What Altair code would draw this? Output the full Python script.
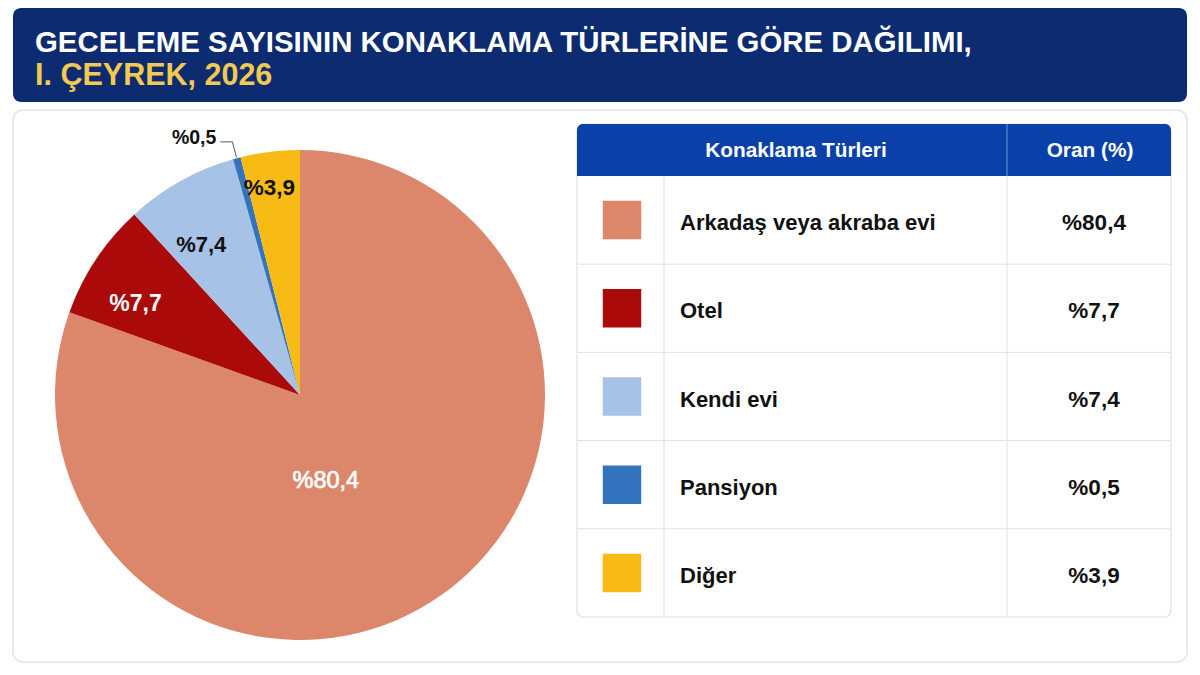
import math
import altair as alt
import pandas as pd

# ---------------- data ----------------
categories = ["Arkadaş veya akraba evi", "Otel", "Kendi evi", "Pansiyon", "Diğer"]
values = [80.4, 7.7, 7.4, 0.5, 3.9]
labels = ["%80,4", "%7,7", "%7,4", "%0,5", "%3,9"]
colors = ["#dc876c", "#ab0a0a", "#a6c2e6", "#3473bd", "#f8bb15"]
title_line1 = "GECELEME SAYISININ KONAKLAMA TÜRLERİNE GÖRE DAĞILIMI,"
title_line2 = "I. ÇEYREK, 2026"
headers = ["Konaklama Türleri", "Oran (%)"]

FONT = "Liberation Sans, Arial, Helvetica, sans-serif"
CX, CY, R = 300, 395, 245

df = pd.DataFrame({"category": categories, "value": values,
                   "label": labels, "idx": list(range(len(categories)))})
one = pd.DataFrame({"k": [1]})

color_scale = alt.Scale(domain=categories, range=colors)

# ---------------- background boxes ----------------
banner = alt.Chart(one).mark_rect(cornerRadius=8, color="#0c2b70").encode(
    x=alt.value(13), x2=alt.value(1187), y=alt.value(8), y2=alt.value(102))
panel = alt.Chart(one).mark_rect(cornerRadius=10, fill="white", stroke="#e0e3ea",
                                 strokeWidth=1.5).encode(
    x=alt.value(13), x2=alt.value(1187), y=alt.value(110), y2=alt.value(662))

t1 = alt.Chart(pd.DataFrame({"t": [title_line1]})).mark_text(
    align="left", baseline="middle", font=FONT, fontSize=29.4, fontWeight="bold",
    color="white").encode(x=alt.value(35), y=alt.value(43), text="t:N")
t2 = alt.Chart(pd.DataFrame({"t": [title_line2]})).mark_text(
    align="left", baseline="middle", font=FONT, fontSize=30.5, fontWeight="bold",
    color="#f3c951").encode(x=alt.value(35), y=alt.value(76), text="t:N")

# ---------------- pie ----------------
pie_base = alt.Chart(df).encode(
    theta=alt.Theta("value:Q", stack=True),
    order=alt.Order("idx:Q"),
    detail=alt.Detail("category:N"),
    x=alt.value(CX), y=alt.value(CY))

arcs = pie_base.mark_arc(outerRadius=R).encode(
    color=alt.Color("category:N", scale=color_scale, legend=None))


def pie_label(i, radius, color, weight, size, dx=0, dy=0, stroke_w=0):
    kw = {}
    if stroke_w:
        kw = {"stroke": color, "strokeWidth": stroke_w}
    return pie_base.transform_calculate(
        t=f"datum.idx == {i} ? datum.label : ''"
    ).mark_text(radius=radius, font=FONT, fontSize=size, fontWeight=weight,
                color=color, align="center", baseline="middle", dx=dx, dy=dy, **kw
    ).encode(text="t:N")


lab0 = pie_label(0, 90, "white", "normal", 23.5, dx=-26, dy=12, stroke_w=0.7)
lab1 = pie_label(1, 189, "white", "bold", 23, dx=-7, dy=14)
lab2 = pie_label(2, 180, "#111111", "bold", 22, dx=-11, dy=7)
lab4 = pie_label(4, 210, "#111111", "bold", 22.5, dx=-5, dy=1)

# leader line for the small slice, derived from the data
total = sum(values)
mid = (sum(values[:3]) + values[3] / 2) / total * 2 * math.pi
sx, sy = CX + 246 * math.sin(mid), CY - 246 * math.cos(mid)
ex, ey = CX + 262 * math.sin(mid), CY - 262 * math.cos(mid)
leader_df = pd.DataFrame({"x": [sx, ex, ex - 12], "y": [sy, ey, ey], "o": [0, 1, 2]})
leader = alt.Chart(leader_df).mark_line(color="#555555", strokeWidth=1).encode(
    x=alt.X("x:Q", scale=None, axis=None), y=alt.Y("y:Q", scale=None, axis=None),
    order="o:Q")
small_df = pd.DataFrame({"x": [ex - 16], "y": [ey - 4], "t": [labels[3]]})
small_lab = alt.Chart(small_df).mark_text(
    align="right", baseline="middle", font=FONT, fontSize=19.5, fontWeight="bold",
    color="#111111").encode(
    x=alt.X("x:Q", scale=None, axis=None), y=alt.Y("y:Q", scale=None, axis=None),
    text="t:N")

# ---------------- table ----------------
TX0, TX1, TY0, TH, TY1 = 577, 1171, 124, 176, 617
COL1, COL2 = 664, 1007
row_scale = alt.Scale(type="band", domain=categories, range=[TH, TY1],
                      paddingInner=0, paddingOuter=0)

table_box = alt.Chart(one).mark_rect(cornerRadius=6, fill="white", stroke="#dde1e8",
                                     strokeWidth=1.2).encode(
    x=alt.value(TX0), x2=alt.value(TX1), y=alt.value(TY0), y2=alt.value(TY1))
header = alt.Chart(one).mark_rect(cornerRadiusTopLeft=6, cornerRadiusTopRight=6,
                                  color="#0941a9").encode(
    x=alt.value(TX0), x2=alt.value(TX1), y=alt.value(TY0), y2=alt.value(TH))
h1 = alt.Chart(pd.DataFrame({"t": [headers[0]]})).mark_text(
    align="center", baseline="middle", font=FONT, fontSize=20.8, fontWeight="bold",
    color="white").encode(x=alt.value(796), y=alt.value(151), text="t:N")
h2 = alt.Chart(pd.DataFrame({"t": [headers[1]]})).mark_text(
    align="center", baseline="middle", font=FONT, fontSize=20.8, fontWeight="bold",
    color="white").encode(x=alt.value(1090), y=alt.value(151), text="t:N")
hdiv = alt.Chart(one).mark_rule(color="#6f8fd0", strokeWidth=1).encode(
    x=alt.value(COL2), y=alt.value(TY0), y2=alt.value(TH))

vdiv = alt.Chart(pd.DataFrame({"c": [COL1, COL2]})).mark_rule(
    color="#dde1e8", strokeWidth=1).encode(
    x=alt.X("c:Q", scale=None, axis=None), y=alt.value(TH), y2=alt.value(TY1))

rows = alt.Chart(df)
row_lines = rows.transform_filter("datum.idx > 0").mark_rule(
    color="#dde1e8", strokeWidth=1).encode(
    y=alt.Y("category:N", scale=row_scale, axis=None, bandPosition=0),
    x=alt.value(TX0), x2=alt.value(TX1))
swatches = rows.mark_square(size=1480, opacity=1).encode(
    y=alt.Y("category:N", scale=row_scale, axis=None),
    x=alt.value(622),
    color=alt.Color("category:N", scale=color_scale, legend=None))
names = rows.mark_text(align="left", baseline="middle", font=FONT, fontSize=22,
                       fontWeight="bold", color="#111111", dy=3).encode(
    y=alt.Y("category:N", scale=row_scale, axis=None),
    x=alt.value(680), text="category:N")
vals_txt = rows.mark_text(align="center", baseline="middle", font=FONT, fontSize=22.5,
                          fontWeight="bold", color="#111111", dy=3).encode(
    y=alt.Y("category:N", scale=row_scale, axis=None),
    x=alt.value(1094), text="label:N")

chart = alt.layer(
    banner, panel, t1, t2,
    arcs, lab0, lab1, lab2, lab4, leader, small_lab,
    table_box, header, h1, h2, hdiv, vdiv, row_lines, swatches, names, vals_txt,
).resolve_scale(x="independent", y="independent").properties(
    width=1200, height=675, autosize=alt.AutoSizeParams(type="none"), padding=0,
    background="white"
).configure_view(stroke=None)

chart.save("out.html", embed_options={"renderer": "svg", "actions": False})
